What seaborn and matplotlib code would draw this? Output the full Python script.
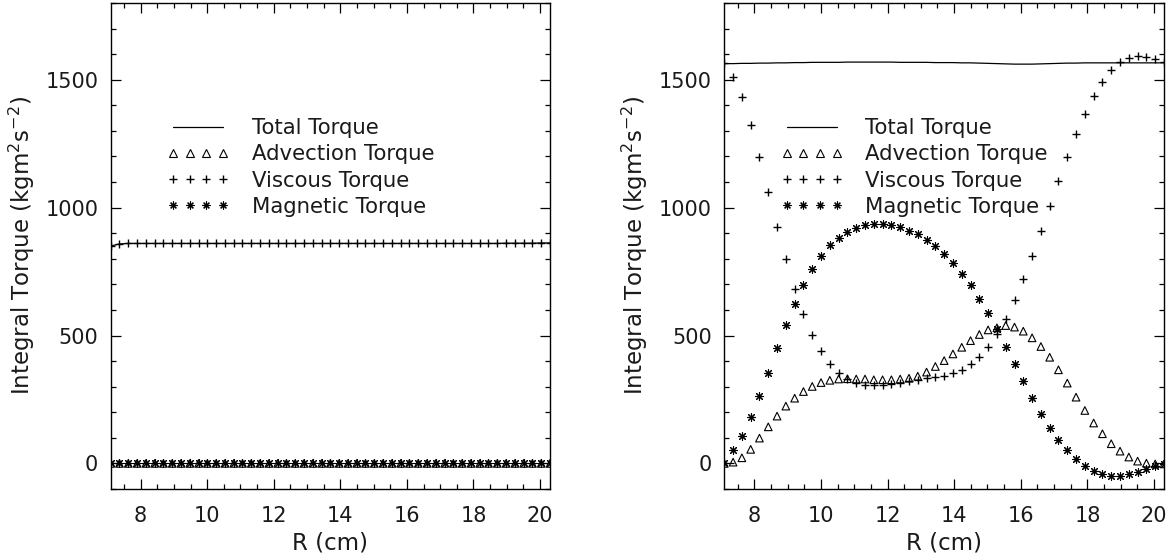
import matplotlib
matplotlib.use("Agg")
import numpy as np
import pandas as pd
import matplotlib.pyplot as plt
from matplotlib.lines import Line2D
from matplotlib.ticker import MultipleLocator
import seaborn as sns

# ---------------- data ----------------
R = [7.100, 7.364, 7.628, 7.892, 8.156, 8.420, 8.684, 8.948, 9.212, 9.476,
     9.740, 10.004, 10.268, 10.532, 10.796, 11.060, 11.324, 11.588, 11.852, 12.116,
     12.380, 12.644, 12.908, 13.172, 13.436, 13.700, 13.964, 14.228, 14.492, 14.756,
     15.020, 15.284, 15.548, 15.812, 16.076, 16.340, 16.604, 16.868, 17.132, 17.396,
     17.660, 17.924, 18.188, 18.452, 18.716, 18.980, 19.244, 19.508, 19.772, 20.036,
     20.300]

left_total = [850, 858, 860, 860, 860, 860, 860, 860, 860, 860,
              860, 860, 860, 860, 860, 860, 860, 860, 860, 860,
              860, 860, 860, 860, 860, 860, 860, 860, 860, 860,
              860, 860, 860, 860, 860, 860, 860, 860, 860, 860,
              860, 860, 860, 860, 860, 861, 861, 861, 861, 862,
              862]
left_advection = [0, 0, 0, 0, 0, 0, 0, 0, 0, 0,
                  0, 0, 0, 0, 0, 0, 0, 0, 0, 0,
                  0, 0, 0, 0, 0, 0, 0, 0, 0, 0,
                  0, 0, 0, 0, 0, 0, 0, 0, 0, 0,
                  0, 0, 0, 0, 0, 0, 0, 0, 0, 0,
                  0]
left_viscous = [850, 858, 860, 860, 860, 860, 860, 860, 860, 860,
                860, 860, 860, 860, 860, 860, 860, 860, 860, 860,
                860, 860, 860, 860, 860, 860, 860, 860, 860, 860,
                860, 860, 860, 860, 860, 860, 860, 860, 860, 860,
                860, 860, 860, 860, 860, 861, 861, 861, 861, 862,
                862]
left_magnetic = [0, 0, 0, 0, 0, 0, 0, 0, 0, 0,
                 0, 0, 0, 0, 0, 0, 0, 0, 0, 0,
                 0, 0, 0, 0, 0, 0, 0, 0, 0, 0,
                 0, 0, 0, 0, 0, 0, 0, 0, 0, 0,
                 0, 0, 0, 0, 0, 0, 0, 0, 0, 0,
                 0]

right_total = [1563, 1563, 1564, 1564, 1565, 1565, 1566, 1566, 1567, 1567,
               1568, 1568, 1568, 1568, 1569, 1569, 1569, 1569, 1569, 1569,
               1568, 1568, 1568, 1568, 1567, 1567, 1567, 1566, 1566, 1565,
               1564, 1563, 1562, 1561, 1561, 1561, 1562, 1563, 1564, 1565,
               1565, 1566, 1566, 1566, 1566, 1566, 1566, 1566, 1566, 1566,
               1566]
right_advection = [0, 5, 22, 55, 99, 143, 185, 224, 255, 281,
                   301, 316, 325, 330, 331, 330, 330, 327, 327, 327,
                   330, 333, 341, 357, 379, 402, 428, 454, 480, 504,
                   522, 530, 539, 533, 517, 491, 457, 415, 366, 314,
                   259, 207, 158, 116, 77, 48, 25, 9, 1, -2,
                   -2]
right_viscous = [1565, 1509, 1431, 1323, 1199, 1061, 926, 798, 682, 585,
                 503, 441, 389, 353, 331, 314, 305, 305, 306, 311,
                 316, 322, 328, 333, 337, 342, 353, 367, 387, 415,
                 454, 507, 565, 639, 722, 810, 907, 1008, 1105, 1199,
                 1288, 1368, 1436, 1493, 1538, 1568, 1585, 1592, 1589, 1581,
                 1570]
right_magnetic = [0, 51, 109, 181, 263, 354, 452, 543, 624, 698,
                  760, 811, 852, 881, 905, 922, 931, 936, 936, 932,
                  923, 910, 895, 875, 849, 819, 784, 742, 697, 643,
                  587, 526, 457, 389, 322, 257, 194, 139, 92, 51,
                  16, -12, -30, -43, -49, -49, -43, -34, -23, -12,
                  -1]

x_ticks = [8, 10, 12, 14, 16, 18, 20]
y_ticks = [0, 500, 1000, 1500]
legend_labels = ["Total Torque", "Advection Torque", "Viscous Torque", "Magnetic Torque"]
x_label = "R (cm)"
y_label = r"Integral Torque (kgm$^{2}$s$^{-2}$)"

# ---------------- style ----------------
sns.set_style("ticks")
plt.rcParams['font.family'] = ['DejaVu Sans']
plt.rcParams['mathtext.fontset'] = 'dejavusans'
TICK_FS = 15
LABEL_FS = 16.5
LEG_FS = 15.3
TXT = "#1a1a1a"

W, H = 1174, 560
fig = plt.figure(figsize=(W / 100, H / 100), dpi=100)
ax_l = fig.add_axes([110.7 / W, 71 / H, 439.3 / W, 486 / H])
ax_r = fig.add_axes([724.3 / W, 71 / H, 439.7 / W, 486 / H])

AST = (8, 2, 0)


def draw(ax, total, adv, visc, mag):
    df = pd.DataFrame({"R": R, "total": total, "adv": adv,
                       "visc": visc, "mag": mag})
    sns.lineplot(data=df, x="R", y="total", color="black", linewidth=0.9,
                 estimator=None, sort=False, ax=ax)
    sns.scatterplot(data=df, x="R", y="adv", marker="^", s=30,
                    color="black", facecolor="none", edgecolor="black",
                    linewidth=0.8, ax=ax)
    sns.scatterplot(data=df, x="R", y="visc", marker="+", s=38,
                    color="black", linewidth=1.0, ax=ax)
    sns.scatterplot(data=df, x="R", y="mag", marker=AST, s=32,
                    color="black", linewidth=0.8, ax=ax)

    ax.set_xlim(7.1, 20.3)
    ax.set_ylim(-100, 1800)
    ax.set_xticks(x_ticks)
    ax.set_yticks(y_ticks)
    ax.xaxis.set_minor_locator(MultipleLocator(0.5))
    ax.yaxis.set_minor_locator(MultipleLocator(100))
    ax.tick_params(which="both", direction="in", top=True, right=True,
                   color="black", labelcolor=TXT, width=0.9)
    ax.tick_params(which="major", length=7.5, labelsize=TICK_FS)
    ax.tick_params(which="minor", length=3.8)
    ax.tick_params(axis="x", which="major", pad=12.5)
    ax.tick_params(axis="y", which="major", pad=9)
    for sp in ax.spines.values():
        sp.set_linewidth(1.0)
        sp.set_color("black")
        sp.set_visible(True)
    ax.set_xlabel(x_label, fontsize=LABEL_FS, labelpad=4, color=TXT)
    ax.set_ylabel(y_label, fontsize=LABEL_FS, labelpad=6, color=TXT)

    handles = [
        Line2D([], [], color="black", linewidth=0.9),
        Line2D([], [], color="black", linestyle="none", marker="^",
               markersize=5.5, markerfacecolor="none", markeredgewidth=0.8),
        Line2D([], [], color="black", linestyle="none", marker="+",
               markersize=6.2, markeredgewidth=1.0),
        Line2D([], [], color="black", linestyle="none", marker=AST,
               markersize=5.7, markeredgewidth=0.8),
    ]
    leg = ax.legend(handles=handles, labels=legend_labels, loc="upper left",
                    bbox_to_anchor=(0.1273, 0.763), frameon=False,
                    fontsize=LEG_FS, numpoints=4, handlelength=2.95,
                    handletextpad=1.05, labelspacing=0.29, borderpad=0,
                    borderaxespad=0)
    for t in leg.get_texts():
        t.set_color(TXT)


draw(ax_l, left_total, left_advection, left_viscous, left_magnetic)
draw(ax_r, right_total, right_advection, right_viscous, right_magnetic)

fig.savefig("out.png", dpi=100)
